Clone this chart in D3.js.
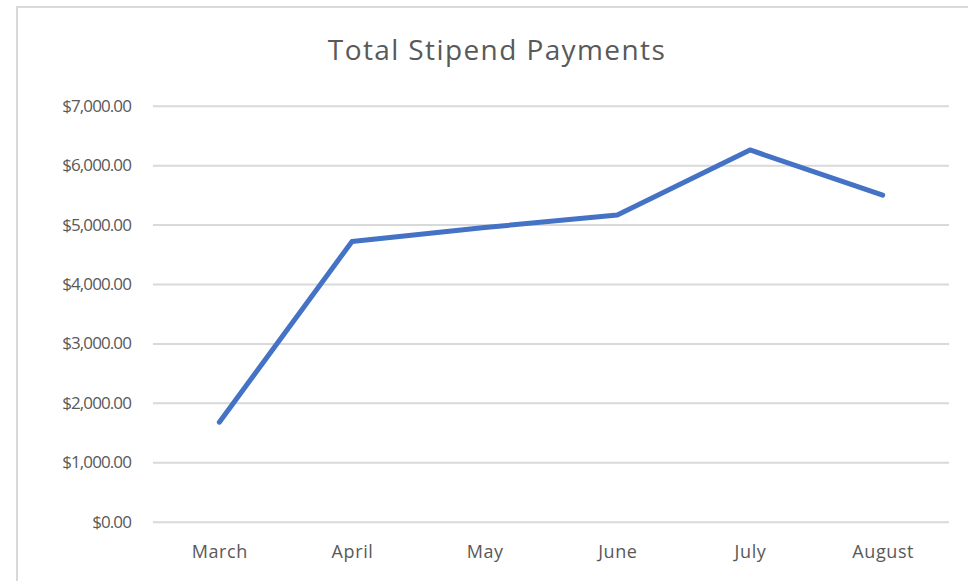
<!DOCTYPE html>
<html>
<head>
<meta charset="utf-8">
<script src="https://cdn.jsdelivr.net/npm/d3@7"></script>
<style>
  body { margin: 0; background: #fff; }
  svg { display: block; font-family: "Open Sans", Lato, sans-serif; }
</style>
</head>
<body>
<svg id="chart" width="968" height="581"></svg>
<script>
const months = ["March", "April", "May", "June", "July", "August"];
const payments = [1675, 4715, 4950, 5160, 6255, 5495];
const yTicks = [0, 1000, 2000, 3000, 4000, 5000, 6000, 7000];

const svg = d3.select("#chart");
const margens = { left: 153, right: 19, top: 105.7, bottom: 59.3 };
const width = 968 - margens.left - margens.right;
const height = 581 - margens.top - margens.bottom;
const fonte = "'Open Sans', Lato, sans-serif";

// moldura do gráfico
svg.append("rect")
  .attr("x", 17)
  .attr("y", 7)
  .attr("width", 980)
  .attr("height", 600)
  .attr("fill", "#fff")
  .attr("stroke", "#d9d9d9")
  .attr("stroke-width", 2);

svg.append("text")
  .attr("x", 497)
  .attr("y", 60)
  .attr("text-anchor", "middle")
  .attr("font-size", "28px")
  .attr("letter-spacing", "1.4px")
  .attr("fill", "#595959")
  .text("Total Stipend Payments");

const x = d3.scalePoint().domain(months).range([0, width]).padding(0.5);
const y = d3.scaleLinear().domain([0, 7000]).range([height, 0]);

const g = svg.append("g")
  .attr("transform", `translate(${margens.left},${margens.top})`);

const fmt = d3.format("$,.2f");

// grade e rótulos do eixo Y
const yAxis = g.append("g")
  .call(d3.axisLeft(y).tickValues(yTicks).tickSize(-width).tickPadding(22).tickFormat(fmt));
yAxis.select(".domain").remove();
yAxis.selectAll(".tick line").attr("stroke", "#d9d9d9").attr("stroke-width", 2);
yAxis.selectAll(".tick text")
  .attr("fill", "#595959")
  .attr("font-size", "17px")
  .attr("letter-spacing", "-0.9px")
  .attr("font-family", fonte);

// eixo X
const xAxis = g.append("g")
  .attr("transform", `translate(0,${height})`)
  .call(d3.axisBottom(x).tickSize(0).tickPadding(24));
xAxis.select(".domain").remove();
xAxis.selectAll(".tick text")
  .attr("fill", "#595959")
  .attr("font-size", "18px")
  .attr("letter-spacing", "0.6px")
  .attr("font-family", fonte);

const line = d3.line()
  .x((d, i) => x(months[i]))
  .y((d) => y(d));

g.append("path")
  .datum(payments)
  .attr("fill", "none")
  .attr("stroke", "#4472c4")
  .attr("stroke-width", 5)
  .attr("stroke-linejoin", "round")
  .attr("stroke-linecap", "round")
  .attr("d", line);
</script>
</body>
</html>
